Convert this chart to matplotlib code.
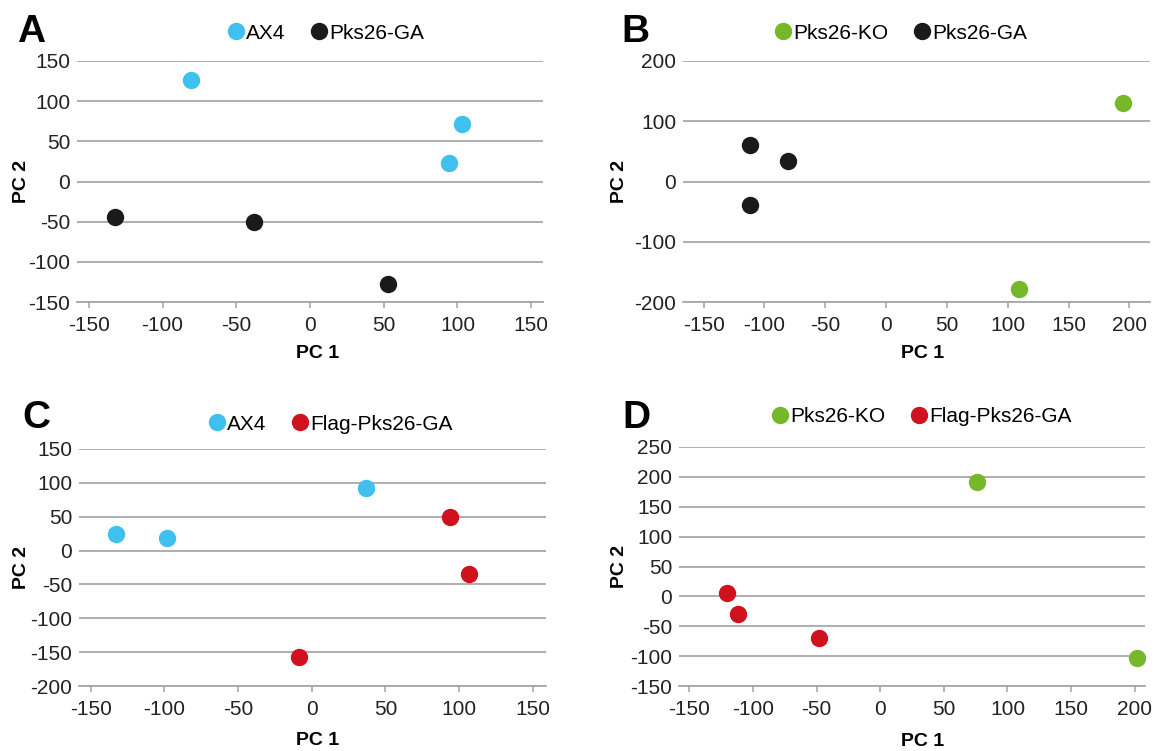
import matplotlib
matplotlib.use("Agg")
import matplotlib.pyplot as plt

plt.rcParams['font.family'] = ['Liberation Sans', 'DejaVu Sans']
plt.rcParams['axes.unicode_minus'] = False

# panel A: AX4 vs Pks26-GA
a_ax4_x = [-81, 103, 94]
a_ax4_y = [126, 71, 23]
a_ga_x = [-132, -38, 53]
a_ga_y = [-44, -50, -128]

# panel B: Pks26-KO vs Pks26-GA
b_ko_x = [195, 109]
b_ko_y = [130, -178]
b_ga_x = [-112, -81, -112]
b_ga_y = [61, 34, -39]

# panel C: AX4 vs Flag-Pks26-GA
c_ax4_x = [-133, -98, 37]
c_ax4_y = [25, 18, 93]
c_flag_x = [94, 107, -9]
c_flag_y = [49, -35, -157]

# panel D: Pks26-KO vs Flag-Pks26-GA
d_ko_x = [76, 202]
d_ko_y = [192, -103]
d_flag_x = [-120, -112, -48]
d_flag_y = [6, -30, -69]

xticks_ac = [-150, -100, -50, 0, 50, 100, 150]
xticks_bd = [-150, -100, -50, 0, 50, 100, 150, 200]
yticks_a = [-150, -100, -50, 0, 50, 100, 150]
yticks_b = [-200, -100, 0, 100, 200]
yticks_c = [-200, -150, -100, -50, 0, 50, 100, 150]
yticks_d = [-150, -100, -50, 0, 50, 100, 150, 200, 250]

BLUE = '#3fc0ef'
BLACK = '#1a1a1a'
GREEN = '#77b82a'
RED = '#d0121e'
GRID = '#a8a8a8'

W, H = 1160, 751
fig = plt.figure(figsize=(W / 100, H / 100), dpi=100)


def make_ax(l, t, r, b):
    return fig.add_axes([l / W, 1 - b / H, (r - l) / W, (b - t) / H])


def style(ax, xlim, ylim, xt, yt, letter, letter_pos, leg_pos, xlab_pos, ylab_x):
    ax.set_xlim(*xlim)
    ax.set_ylim(*ylim)
    ax.set_xticks(xt)
    ax.set_yticks(yt)
    ax.set_xticklabels([str(v) for v in xt])
    ax.set_yticklabels([str(v) for v in yt])
    for s in ['top', 'right', 'left']:
        ax.spines[s].set_visible(False)
    ax.spines['bottom'].set_color(GRID)
    ax.spines['bottom'].set_linewidth(1.3)
    ax.yaxis.grid(True, color=GRID, linewidth=1.3)
    ax.set_axisbelow(True)
    ax.tick_params(axis='y', length=0, pad=5, labelsize=15, colors='#222222')
    ax.tick_params(axis='x', length=4, width=1.2, color=GRID, pad=6,
                   labelsize=15, labelcolor='#222222')
    ax.set_xlabel('PC 1', fontsize=14, fontweight='bold')
    ax.set_ylabel('PC 2', fontsize=14, fontweight='bold')
    ax.xaxis.set_label_coords(*xlab_pos)
    ax.yaxis.set_label_coords(ylab_x, 0.5)
    ax.text(letter_pos[0], letter_pos[1], letter, transform=ax.transAxes,
            fontsize=28, fontweight='bold', va='baseline', ha='left')
    ax.legend(loc='center', bbox_to_anchor=leg_pos, ncol=2,
              frameon=False, fontsize=15, handletextpad=0.0,
              columnspacing=1.1, borderaxespad=0, handlelength=1.0)


ms = 11.5

ax = make_ax(77, 61, 543, 302)
ax.plot(a_ax4_x, a_ax4_y, 'o', color=BLUE, ms=ms, label='AX4')
ax.plot(a_ga_x, a_ga_y, 'o', color=BLACK, ms=ms, label='Pks26-GA')
style(ax, (-158, 158), (-150, 150), xticks_ac, yticks_a, 'A',
      (-0.128, 1.079), (0.532, 1.116), (0.516, -0.178), -0.101)

ax = make_ax(683, 61, 1150, 302)
ax.plot(b_ko_x, b_ko_y, 'o', color=GREEN, ms=ms, label='Pks26-KO')
ax.plot(b_ga_x, b_ga_y, 'o', color=BLACK, ms=ms, label='Pks26-GA')
style(ax, (-167, 217), (-200, 200), xticks_bd, yticks_b, 'B',
      (-0.131, 1.079), (0.465, 1.116), (0.514, -0.178), -0.118)

ax = make_ax(79, 449, 546, 686)
ax.plot(c_ax4_x, c_ax4_y, 'o', color=BLUE, ms=ms, label='AX4')
ax.plot(c_flag_x, c_flag_y, 'o', color=RED, ms=ms, label='Flag-Pks26-GA')
style(ax, (-158, 159), (-200, 150), xticks_ac, yticks_c, 'C',
      (-0.122, 1.089), (0.537, 1.105), (0.511, -0.194), -0.105)

ax = make_ax(679, 447, 1145, 686)
ax.plot(d_ko_x, d_ko_y, 'o', color=GREEN, ms=ms, label='Pks26-KO')
ax.plot(d_flag_x, d_flag_y, 'o', color=RED, ms=ms, label='Flag-Pks26-GA')
style(ax, (-158, 208), (-150, 250), xticks_bd, yticks_d, 'D',
      (-0.122, 1.079), (0.519, 1.126), (0.523, -0.197), -0.109)

fig.savefig('out.png', dpi=100)
